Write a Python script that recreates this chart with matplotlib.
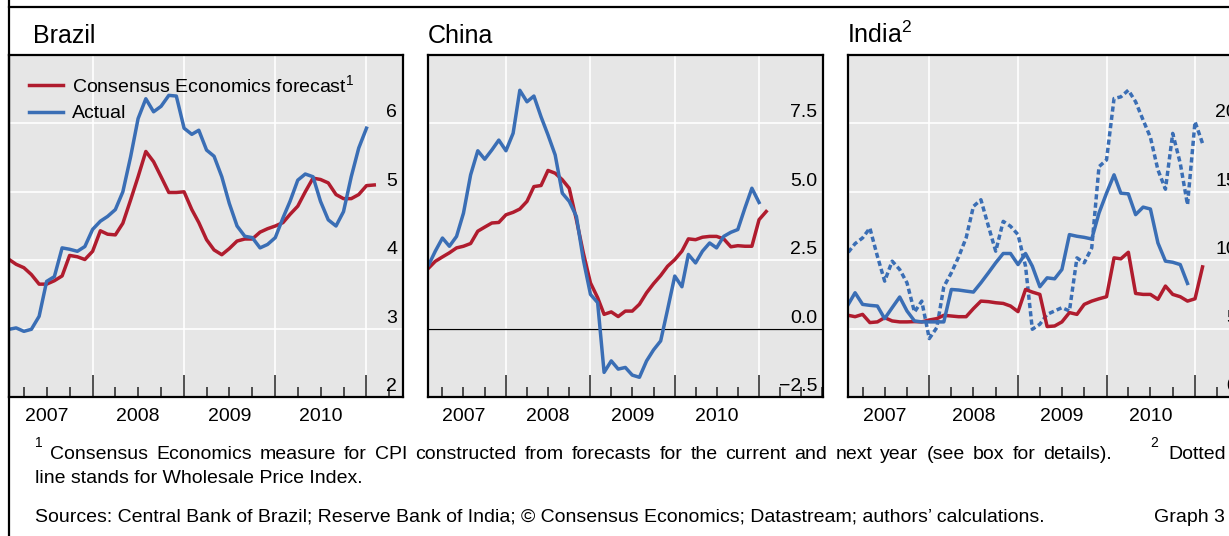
import numpy as np
import pandas as pd
import matplotlib
matplotlib.use("Agg")
import matplotlib.pyplot as plt
import matplotlib.dates as mdates
import matplotlib.transforms as mtransforms
from matplotlib.lines import Line2D

plt.rcParams['font.family'] = ['Liberation Sans', 'DejaVu Sans']
plt.rcParams['mathtext.fontset'] = 'custom'
plt.rcParams['mathtext.rm'] = 'Liberation Sans'
plt.rcParams['mathtext.it'] = 'Liberation Sans:italic'

# datos (mensuales, desde febrero 2007)
inicio = '2007-02-01'

brasil_actual = [2.99, 3.01, 2.96, 2.99, 3.18, 3.69, 3.76, 4.18, 4.16, 4.13, 4.20, 4.45,
                 4.57, 4.64, 4.74, 5.00, 5.51, 6.07, 6.36, 6.17, 6.25, 6.41, 6.40, 5.93,
                 5.84, 5.90, 5.61, 5.52, 5.22, 4.83, 4.50, 4.35, 4.33, 4.18, 4.23, 4.33,
                 4.62, 4.86, 5.17, 5.26, 5.22, 4.86, 4.59, 4.50, 4.71, 5.22, 5.64, 5.93]
brasil_pronostico = [4.01, 3.94, 3.89, 3.79, 3.65, 3.65, 3.70, 3.77, 4.07, 4.05, 4.01, 4.13,
                     4.43, 4.38, 4.37, 4.54, 4.88, 5.22, 5.59, 5.44, 5.22, 4.99, 4.99, 5.00,
                     4.74, 4.55, 4.30, 4.15, 4.08, 4.17, 4.28, 4.31, 4.31, 4.41, 4.46, 4.50,
                     4.55, 4.67, 4.79, 5.00, 5.20, 5.18, 5.13, 4.96, 4.90, 4.90, 4.96, 5.09,
                     5.10]

china_actual = [2.34, 2.83, 3.31, 3.01, 3.37, 4.22, 5.62, 6.50, 6.19, 6.53, 6.89, 6.50,
                7.14, 8.71, 8.29, 8.50, 7.74, 7.08, 6.35, 4.95, 4.65, 4.10, 2.52, 1.25,
                0.95, -1.60, -1.18, -1.48, -1.42, -1.70, -1.78, -1.18, -0.78, -0.45, 0.70, 1.92,
                1.53, 2.71, 2.40, 2.83, 3.13, 2.95, 3.37, 3.52, 3.62, 4.41, 5.13, 4.61]
china_pronostico = [2.22, 2.46, 2.62, 2.77, 2.95, 3.01, 3.11, 3.56, 3.71, 3.86, 3.88, 4.16,
                    4.25, 4.37, 4.65, 5.19, 5.23, 5.78, 5.68, 5.44, 5.13, 3.98, 2.77, 1.67,
                    1.13, 0.52, 0.61, 0.44, 0.64, 0.64, 0.89, 1.31, 1.64, 1.94, 2.28, 2.52,
                    2.83, 3.28, 3.25, 3.34, 3.37, 3.37, 3.28, 2.99, 3.03, 3.01, 3.01, 3.98,
                    4.28]

india_actual = [6.77, 7.62, 6.77, 6.70, 6.65, 5.73, 6.53, 7.31, 6.29, 5.56, 5.49, 5.49,
                5.49, 5.49, 7.86, 7.82, 7.74, 7.67, 8.35, 9.08, 9.81, 10.49, 10.49, 9.68,
                10.49, 9.56, 8.06, 8.71, 8.64, 9.32, 11.87, 11.75, 11.67, 11.55, 13.45, 14.90,
                16.24, 14.90, 14.85, 13.33, 13.88, 13.74, 11.26, 9.93, 9.85, 9.68, 8.30]
india_pronostico = [5.97, 5.87, 6.04, 5.44, 5.49, 5.80, 5.56, 5.49, 5.49, 5.51, 5.49, 5.63,
                    5.73, 5.97, 5.92, 5.87, 5.87, 6.46, 7.01, 6.97, 6.89, 6.84, 6.65, 6.24,
                    7.86, 7.67, 7.50, 5.15, 5.19, 5.49, 6.17, 6.04, 6.77, 7.01, 7.18, 7.33,
                    10.17, 10.10, 10.58, 7.57, 7.50, 7.50, 7.14, 8.11, 7.50, 7.33, 7.01, 7.18,
                    9.51]
india_wpi = [10.58, 11.21, 11.63, 12.35, 10.29, 8.47, 9.93, 9.32, 8.35, 6.21, 7.01, 4.27,
             5.07, 8.06, 9.08, 10.24, 11.63, 13.93, 14.42, 12.48, 10.66, 12.84, 12.48, 11.87,
             9.56, 4.95, 5.32, 6.04, 6.29, 6.53, 6.29, 10.17, 9.81, 10.90, 16.84, 17.33,
             21.82, 21.94, 22.43, 21.58, 20.24, 18.98, 16.60, 15.19, 19.27, 17.09, 14.05, 20.12,
             18.54]

brasil_ticks = [2, 3, 4, 5, 6]
brasil_etiquetas = ['2', '3', '4', '5', '6']
china_ticks = [-2.5, 0, 2.5, 5, 7.5]
china_etiquetas = ['\u22122.5', '0.0', '2.5', '5.0', '7.5']
india_ticks = [0, 5, 10, 15, 20]
india_etiquetas = ['0', '5', '10', '15', '20']
anios = [2007, 2008, 2009, 2010]

nota1 = ('Consensus Economics measure for CPI constructed from forecasts for the '
         'current and next year (see box for details).')
nota2 = 'Dotted'
nota2_resto = 'line stands for Wholesale Price Index.'
fuentes = ('Sources: Central Bank of Brazil; Reserve Bank of India; \u00a9 Consensus '
           'Economics; Datastream; authors\u2019 calculations.')

ROJO = '#b01c2e'
AZUL = '#3a6eb5'
FONDO = '#e6e6e6'
W, H = 1229, 536


def fechas(serie):
    return pd.date_range(inicio, periods=len(serie), freq='MS')


def mes(i):
    # posicion (fraccion de meses desde ene-2007) en numero de fecha
    return mdates.date2num(pd.Timestamp('2007-01-01')) + i * 365.25 / 12


def panel(fig, x0, x1, mes_izq, mes_der, ylim, ticks, etiquetas):
    ax = fig.add_axes([x0 / W, 1 - 397 / H, (x1 - x0) / W, 342 / H])
    ax.set_facecolor(FONDO)
    ax.set_xlim(mes(mes_izq), mes(mes_der))
    ax.set_ylim(*ylim)
    ax.xaxis.set_major_locator(mdates.YearLocator())
    ax.xaxis.set_minor_locator(mdates.MonthLocator(bymonth=[1, 4, 7, 10]))
    ax.set_yticks(ticks)
    ax.tick_params(axis='x', which='major', direction='in', length=16, width=1.1,
                   color='#222222', labelbottom=False, top=False)
    ax.tick_params(axis='x', which='minor', direction='in', length=7.5, width=1.1,
                   color='#222222', top=False)
    ax.tick_params(axis='y', left=False, right=False, labelleft=False)
    ax.grid(True, which='major', color='white', lw=1.2)
    ax.set_axisbelow(True)
    for s in ax.spines.values():
        s.set_linewidth(1.6)
        s.set_color('black')
    for v, t in zip(ticks, etiquetas):
        ax.annotate(t, xy=(1, v), xycoords=('axes fraction', 'data'),
                    xytext=(-6, 6), textcoords='offset pixels',
                    ha='right', va='baseline', fontsize=14)
    trans = mtransforms.blended_transform_factory(ax.transData, ax.transAxes)
    for a in anios:
        ax.text(mdates.date2num(pd.Timestamp(f'{a}-07-01')), -0.056, str(a),
                transform=trans, ha='center', va='center', fontsize=14)
    return ax


def texto_justificado(fig, texto, x0, x1, y, fs):
    # reparte las palabras entre x0 y x1 (pixeles)
    r = fig.canvas.get_renderer()
    palabras = texto.split()
    objs = [fig.text(0, 1 - y / H, p, fontsize=fs, va='baseline') for p in palabras]
    anchos = [o.get_window_extent(r).width for o in objs]
    hueco = (x1 - x0 - sum(anchos)) / (len(palabras) - 1)
    x = x0
    for o, a in zip(objs, anchos):
        o.set_x(x / W)
        x += a + hueco


def main():
    fig = plt.figure(figsize=(W / 100, H / 100), dpi=100)

    lw = 2.5

    # Brasil
    ax1 = panel(fig, 9, 403, 1.0, 52.8, (2, 7), brasil_ticks, brasil_etiquetas)
    ax1.plot(fechas(brasil_pronostico), brasil_pronostico, color=ROJO, lw=lw,
             label='Consensus Economics forecast$^1$')
    ax1.plot(fechas(brasil_actual), brasil_actual, color=AZUL, lw=lw, label='Actual')
    ax1.legend(loc='upper left', bbox_to_anchor=(0.05, 0.944), frameon=False,
               fontsize=14, handlelength=1.75, handletextpad=0.5, labelspacing=0.45,
               borderaxespad=0, borderpad=0)

    # China
    ax2 = panel(fig, 428, 823, 0.9, 57.1, (-2.5, 10), china_ticks, china_etiquetas)
    ax2.axhline(0, color='black', lw=0.9, zorder=1.5)
    ax2.plot(fechas(china_pronostico), china_pronostico, color=ROJO, lw=lw)
    ax2.plot(fechas(china_actual), china_actual, color=AZUL, lw=lw)

    # India
    ax3 = panel(fig, 848, 1243, 0.98, 54.5, (0, 25), india_ticks, india_etiquetas)
    ax3.plot(fechas(india_wpi), india_wpi, color=AZUL, lw=lw,
             linestyle=(0, (1.5, 0.9)), dash_capstyle='butt')
    ax3.plot(fechas(india_pronostico), india_pronostico, color=ROJO, lw=lw)
    ax3.plot(fechas(india_actual), india_actual, color=AZUL, lw=lw)

    # titulos
    for x, t in [(33, 'Brazil'), (428, 'China'), (847, 'India$^2$')]:
        fig.text(x / W, 1 - 43 / H, t, fontsize=18, va='baseline')

    # marco
    fig.add_artist(Line2D([9 / W, 1], [1 - 7 / H, 1 - 7 / H], color='black', lw=1.6))
    fig.add_artist(Line2D([9 / W, 9 / W], [0, 1], color='black', lw=1.6))

    # notas
    fs = 14
    fig.text(35 / W, 1 - 447 / H, '1', fontsize=10, va='baseline')
    texto_justificado(fig, nota1, 50, 1112, 459, fs)
    fig.text(1150 / W, 1 - 447 / H, '2', fontsize=10, va='baseline')
    fig.text(1226 / W, 1 - 459 / H, nota2, fontsize=fs, va='baseline', ha='right')
    fig.text(35 / W, 1 - 483 / H, nota2_resto, fontsize=fs, va='baseline')
    fig.text(35 / W, 1 - 522 / H, fuentes, fontsize=fs, va='baseline')
    fig.text(1225 / W, 1 - 522 / H, 'Graph 3', fontsize=fs, va='baseline', ha='right')

    fig.savefig('out.png', dpi=100)


if __name__ == "__main__":
    main()
